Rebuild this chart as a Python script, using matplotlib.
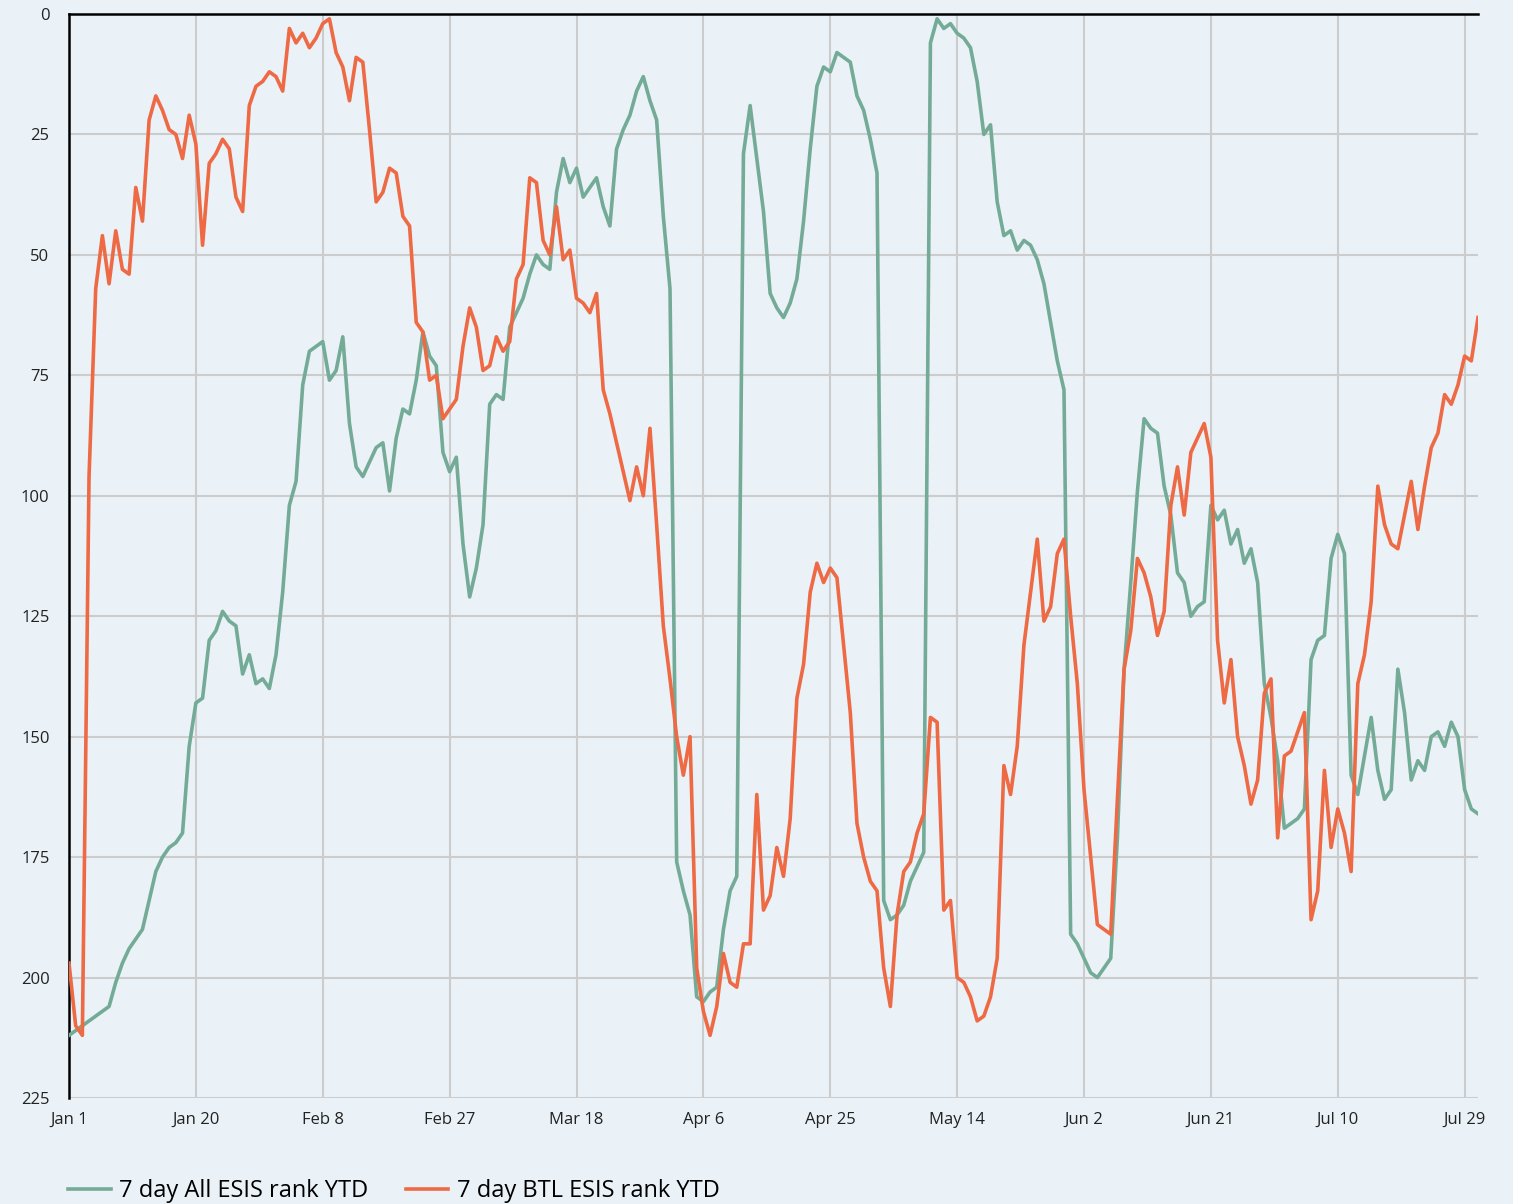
import numpy as np
import pandas as pd
import matplotlib
matplotlib.use("Agg")
import matplotlib.pyplot as plt
from matplotlib.lines import Line2D

plt.rcParams['font.family'] = ['Open Sans', 'DejaVu Sans']

# daily dates, Jan 1 -> Jul 31
dates = pd.date_range("2023-01-01", periods=212, freq="D")

# 7 day All ESIS rank YTD
all_rank = [
    212, 211, 210, 209, 208, 207, 206, 201, 197, 194,
    192, 190, 184, 178, 175, 173, 172, 170, 152, 143,
    142, 130, 128, 124, 126, 127, 137, 133, 139, 138,
    140, 133, 120, 102, 97, 77, 70, 69, 68, 76,
    74, 67, 85, 94, 96, 93, 90, 89, 99, 88,
    82, 83, 76, 66, 71, 73, 91, 95, 92, 110,
    121, 115, 106, 81, 79, 80, 65, 62, 59, 54,
    50, 52, 53, 37, 30, 35, 32, 38, 36, 34,
    40, 44, 28, 24, 21, 16, 13, 18, 22, 42,
    57, 176, 182, 187, 204, 205, 203, 202, 190, 182,
    179, 29, 19, 30, 41, 58, 61, 63, 60, 55,
    43, 28, 15, 11, 12, 8, 9, 10, 17, 20,
    26, 33, 184, 188, 187, 185, 180, 177, 174, 6,
    1, 3, 2, 4, 5, 7, 14, 25, 23, 39,
    46, 45, 49, 47, 48, 51, 56, 64, 72, 78,
    191, 193, 196, 199, 200, 198, 196, 171, 136, 118,
    99, 84, 86, 87, 98, 104, 116, 118, 125, 123,
    122, 102, 105, 103, 110, 107, 114, 111, 118, 139,
    146, 155, 169, 168, 167, 165, 134, 130, 129, 113,
    108, 112, 158, 162, 154, 146, 157, 163, 161, 136,
    145, 159, 155, 157, 150, 149, 152, 147, 150, 161,
    165, 166,
]

# 7 day BTL ESIS rank YTD
btl_rank = [
    197, 210, 212, 96, 57, 46, 56, 45, 53, 54,
    36, 43, 22, 17, 20, 24, 25, 30, 21, 27,
    48, 31, 29, 26, 28, 38, 41, 19, 15, 14,
    12, 13, 16, 3, 6, 4, 7, 5, 2, 1,
    8, 11, 18, 9, 10, 24, 39, 37, 32, 33,
    42, 44, 64, 66, 76, 75, 84, 82, 80, 69,
    61, 65, 74, 73, 67, 70, 68, 55, 52, 34,
    35, 47, 50, 40, 51, 49, 59, 60, 62, 58,
    78, 83, 89, 95, 101, 94, 100, 86, 106, 127,
    138, 150, 158, 150, 198, 207, 212, 206, 195, 201,
    202, 193, 193, 162, 186, 183, 173, 179, 167, 142,
    135, 120, 114, 118, 115, 117, 131, 145, 168, 175,
    180, 182, 198, 206, 187, 178, 176, 170, 166, 146,
    147, 186, 184, 200, 201, 204, 209, 208, 204, 196,
    156, 162, 152, 131, 120, 109, 126, 123, 112, 109,
    125, 139, 161, 175, 189, 190, 191, 163, 136, 128,
    113, 116, 121, 129, 124, 102, 94, 104, 91, 88,
    85, 92, 130, 143, 134, 150, 156, 164, 159, 141,
    138, 171, 154, 153, 149, 145, 188, 182, 157, 173,
    165, 170, 178, 139, 133, 122, 98, 106, 110, 111,
    104, 97, 107, 98, 90, 87, 79, 81, 77, 71,
    72, 63,
]

labels = ["7 day All ESIS rank YTD", "7 day BTL ESIS rank YTD"]
colors = ["#74ab97", "#ee6a45"]
bg = "#eaf2f7"

fig = plt.figure(figsize=(15.13, 12.04), dpi=100, facecolor=bg)
ax = fig.add_axes([69 / 1513, 1 - 1098 / 1204, 1409 / 1513, 1084 / 1204])
ax.set_facecolor(bg)

ax.plot(dates, all_rank, color=colors[0], lw=2.6, zorder=3)
ax.plot(dates, btl_rank, color=colors[1], lw=2.6, zorder=4)

ax.set_ylim(225, 0)
ax.set_yticks(np.arange(0, 226, 25))
ax.set_xlim(dates[0], dates[-1])
xt = dates[::19]
ax.set_xticks(xt)
ax.set_xticklabels([f"{d.strftime('%b')} {d.day}" for d in xt])

ax.grid(True, color="#cccccc", lw=1.5, zorder=0)
ax.tick_params(length=0, labelsize=12, colors="#222222")
ax.tick_params(axis="y", pad=14)
ax.tick_params(axis="x", pad=10)

for s in ["right", "bottom"]:
    ax.spines[s].set_visible(False)
for s in ["left", "top"]:
    ax.spines[s].set_color("black")
    ax.spines[s].set_linewidth(1.8)

handles = [Line2D([], [], color=c, lw=2.6) for c in colors]
fig.legend(handles, labels, loc="center left", bbox_to_anchor=(68 / 1513, 1 - 1191 / 1204),
           ncol=2, frameon=False, fontsize=17, borderpad=0, borderaxespad=0,
           handlelength=1.8, handletextpad=0.35, columnspacing=1.6)

fig.savefig("out.png", dpi=100, facecolor=bg)
